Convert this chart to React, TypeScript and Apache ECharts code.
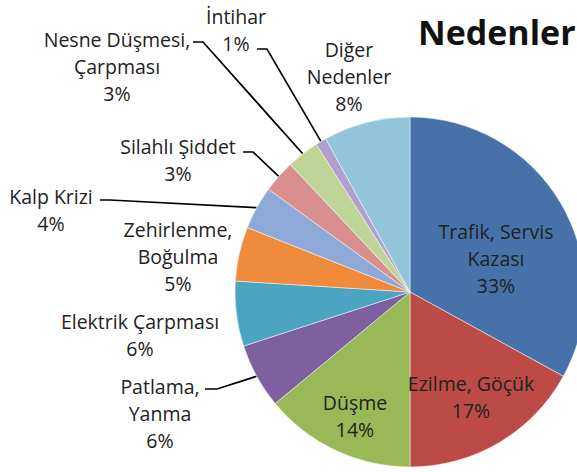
import React, { useEffect, useRef } from 'react';
import * as echarts from 'echarts';

// Categories (label text, as shown on the chart)
const categories = [
  'Trafik, Servis\nKazası',
  'Ezilme, Göçük',
  'Düşme',
  'Patlama,\nYanma',
  'Elektrik Çarpması',
  'Zehirlenme,\nBoğulma',
  'Kalp Krizi',
  'Silahlı Şiddet',
  'Nesne Düşmesi,\nÇarpması',
  'İntihar',
  'Diğer\nNedenler',
];
// Shares in percent
const shares = [33, 17, 14, 6, 6, 5, 4, 3, 3, 1, 8];

const sliceColors = [
  '#4772A9', '#BC4A47', '#98B955', '#7E60A0', '#4BA5C2', '#F18B3C',
  '#8EA9D8', '#D98F8D', '#BFD598', '#B1A0CB', '#92C4DA',
];

// label layout (text block centres) and leader-line bends
const labelCenters: number[][] = [
  [496, 258], [471, 397], [355, 416], [160, 413], [140, 335], [178, 256],
  [51, 210], [178, 160], [117, 66], [236, 30], [349, 76],
];
const leaders: (number[][] | null)[] = [
  null, null, null,
  [[217, 389], [205, 389]],
  null, null,
  [[110, 200], [100, 200]],
  [[253, 152], [243, 152]],
  [[203, 42], [193, 42]],
  [[267, 49], [257, 49]],
  null,
];

const CX = 410;
const CY = 292;
const R = 175;

export default function App() {
  const ref = useRef<HTMLDivElement>(null);
  useEffect(() => {
    if (!ref.current) return;
    const chart = echarts.init(ref.current, null, { renderer: 'svg' });
    const total = shares.reduce((a, b) => a + b, 0);
    const edgePoint = (i: number) => {
      let cum = 0;
      for (let k = 0; k < i; k++) cum += shares[k];
      const mid = ((cum + shares[i] / 2) / total) * Math.PI * 2;
      return [CX + R * Math.sin(mid), CY - R * Math.cos(mid)];
    };
    const font = 'Open Sans';
    chart.setOption({
      animation: false,
      backgroundColor: '#ffffff',
      title: {
        text: 'Nedenler',
        left: 413,
        top: 10,
        textStyle: { fontFamily: font, fontWeight: 'bold', fontSize: 34, color: '#111111' },
      },
      series: [
        {
          type: 'pie',
          center: [CX, CY],
          radius: R,
          startAngle: 90,
          clockwise: true,
          avoidLabelOverlap: false,
          itemStyle: { borderColor: 'rgba(255,255,255,0.6)', borderWidth: 0.8 },
          label: {
            show: true,
            fontFamily: font,
            fontSize: 19.5,
            lineHeight: 27,
            color: '#222222',
            formatter: (p: any) => `${p.name}\n${p.value}%`,
          },
          labelLine: {
            show: true,
            smooth: false,
            lineStyle: { color: '#000000', width: 1.7 },
          },
          labelLayout: (p: any) => {
            const i = p.dataIndex;
            const [x, y] = labelCenters[i];
            const res: any = { x, y, align: 'center', verticalAlign: 'middle', hideOverlap: false };
            const lead = leaders[i];
            if (lead) {
              const start = edgePoint(i);
              res.labelLinePoints = [start, lead[0], lead[1]];
            }
            return res;
          },
          data: categories.map((name, i) => ({
            name,
            value: shares[i],
            itemStyle: { color: sliceColors[i] },
            label: { position: leaders[i] ? 'outside' : 'inside' },
            labelLine: { show: !!leaders[i] },
          })),
        },
      ],
    });
    return () => chart.dispose();
  }, []);
  return (
    <div
      ref={ref}
      style={{ position: 'fixed', left: 0, top: 0, width: 577, height: 472 }}
    />
  );
}
